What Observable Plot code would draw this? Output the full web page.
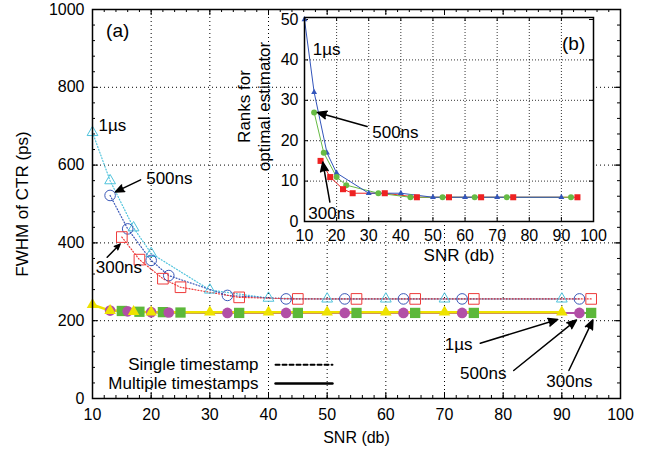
<!DOCTYPE html>
<html><head><meta charset="utf-8">
<script src="https://cdn.jsdelivr.net/npm/d3@7"></script>
<script src="https://cdn.jsdelivr.net/npm/@observablehq/plot@0.6"></script>
<style>
body{margin:0;background:#fff}
#wrap{position:relative;width:649px;height:451px;background:#fff}
#wrap svg{position:absolute;left:0;top:0}
</style></head><body><div id="wrap"></div>
<script>
// ---------- data: panel (a) ----------
const snr1us  = [10, 13, 17, 20, 30, 40, 50, 60, 70, 90];
const snr500  = [13, 16, 20, 23, 33, 43, 53, 63, 73, 93];
const snr300  = [15, 18, 22, 25, 35, 45, 55, 65, 75, 95];
const single1us  = [684, 560, 439, 373, 279, 258, 256, 256, 256, 256];
const single500  = [522, 436, 355, 316, 265, 256, 256, 256, 256, 256];
const single300  = [415, 357, 308, 286, 260, 256, 256, 256, 256, 256];
const multi1us   = [241, 226, 223, 222, 222, 222, 222, 222, 222, 222];
const multi500   = [226, 224, 222, 221, 220, 220, 220, 220, 220, 220];
const multi300   = [225, 223, 222, 221, 220, 220, 220, 220, 220, 220];
// ---------- data: panel (b) ----------
const rank1us = [50, 32, 17, 12, 7, 7, 6, 6, 6, 6];
const rank500 = [27, 17, 11, 9, 7, 6, 6, 6, 6, 6];
const rank300 = [15, 11, 8, 7, 7, 6, 6, 6, 6, 6];
// ---------- ticks ----------
const xTicks = [10, 20, 30, 40, 50, 60, 70, 80, 90, 100];
const xGrid = [20, 30, 40, 50, 60, 70, 80, 90];
const xMinor = d3.range(10, 101, 2);
const yTicksA = [0, 200, 400, 600, 800, 1000];
const yGridA = [200, 400, 600, 800];
const yMinorA = d3.range(0, 1001, 40);
const yTicksB = [0, 10, 20, 30, 40, 50];
const yGridB = [10, 20, 30, 40];
// ---------- annotations (data coordinates) ----------
const labelsA = [
  {x: 13.4, y: 702, t: "1µs"},
  {x: 23.1, y: 565, t: "500ns"},
  {x: 14.5, y: 337, t: "300ns"},
  {x: 72.4, y: 139, t: "1µs"},
  {x: 76.6, y: 63, t: "500ns"},
  {x: 91.3, y: 44, t: "300ns"}
];
const panelA = [{x: 14.3, y: 946, t: "(a)"}];
const arrowsA = [
  {x1: 18.2, y1: 562, x2: 13.9, y2: 531},
  {x1: 12.5, y1: 363, x2: 14.7, y2: 397},
  {x1: 76.1, y1: 142, x2: 89.3, y2: 203},
  {x1: 81.8, y1: 72, x2: 92.5, y2: 202},
  {x1: 91.2, y1: 72, x2: 95.3, y2: 202}
];
const legendNames = ["Single timestamp", "Multiple timestamps"];
const legendY = [87, 38.6];
const legendX = [38.3, 41.2, 50.9];
const labelsB = [
  {x: 16.9, y: 42.5, t: "1µs"},
  {x: 38.3, y: 22, t: "500ns"},
  {x: 18.4, y: 2, t: "300ns"}
];
const panelB = [{x: 93.8, y: 44, t: "(b)"}];
const arrowsB = [
  {x1: 29.5, y1: 23.5, x2: 14.0, y2: 27},
  {x1: 17.9, y1: 4.8, x2: 15.7, y2: 14.7}
];

const rows = (xs, ys) => xs.map((x, i) => ({x, y: ys[i]}));
const W = 649, H = 451;
const font = "'Liberation Sans', Arial, Helvetica, sans-serif";
const C = {cyan: "#4fc3dc", blue: "#3a58b8", red: "#ee3a3a", yellow: "#eee200", purple: "#b24fa6", green: "#5cb83a",
           iblue: "#3355bb", igreen: "#66bb44", ired: "#ee2222"};

// ---------- main panel (a) ----------
const mL = 92, mR = 29, mT = 9, mB = 53;
const fw = W - mL - mR, fh = H - mT - mB;
const dotted = {strokeDasharray: "1,2", strokeWidth: 1.2};
const main = Plot.plot({
  width: W, height: H, marginLeft: mL, marginRight: mR, marginTop: mT, marginBottom: mB,
  style: {fontFamily: font, fontSize: "16px", background: "transparent", color: "black", overflow: "visible"},
  x: {domain: [10, 100], label: null},
  y: {domain: [0, 1000], label: null},
  marks: [
    Plot.gridX({ticks: xGrid, stroke: "black", strokeOpacity: 1, strokeDasharray: "1,3"}),
    Plot.gridY({ticks: yGridA, stroke: "black", strokeOpacity: 1, strokeDasharray: "1,3"}),
    // inward ticks
    Plot.tickX(xMinor, {x: d => d, insetTop: fh - 3, stroke: "black"}),
    Plot.tickX(xMinor, {x: d => d, insetBottom: fh - 3, stroke: "black"}),
    Plot.tickX(xTicks, {x: d => d, insetTop: fh - 6, stroke: "black"}),
    Plot.tickX(xTicks, {x: d => d, insetBottom: fh - 6, stroke: "black"}),
    Plot.tickY(yMinorA, {y: d => d, insetRight: fw - 3, stroke: "black"}),
    Plot.tickY(yMinorA, {y: d => d, insetLeft: fw - 3, stroke: "black"}),
    Plot.tickY(yTicksA, {y: d => d, insetRight: fw - 6, stroke: "black"}),
    Plot.tickY(yTicksA, {y: d => d, insetLeft: fw - 6, stroke: "black"}),
    // single timestamp (dotted, hollow)
    Plot.line(rows(snr1us, single1us), {x: "x", y: "y", stroke: C.cyan, ...dotted}),
    Plot.line(rows(snr500, single500), {x: "x", y: "y", stroke: C.blue, ...dotted}),
    Plot.line(rows(snr300, single300), {x: "x", y: "y", stroke: C.red, ...dotted}),
    Plot.dot(rows(snr1us, single1us), {x: "x", y: "y", symbol: "triangle", r: 4, stroke: C.cyan, fill: "none", strokeWidth: 1}),
    Plot.dot(rows(snr500, single500), {x: "x", y: "y", symbol: "circle", r: 5.3, stroke: C.blue, fill: "none", strokeWidth: 1}),
    Plot.dot(rows(snr300, single300), {x: "x", y: "y", symbol: "square", r: 6, stroke: C.red, fill: "none", strokeWidth: 1}),
    // multiple timestamps (solid, filled)
    Plot.line(rows(snr300, multi300), {x: "x", y: "y", stroke: C.green, strokeWidth: 2}),
    Plot.line(rows(snr500, multi500), {x: "x", y: "y", stroke: C.purple, strokeWidth: 2}),
    Plot.line(rows(snr1us, multi1us), {x: "x", y: "y", stroke: C.yellow, strokeWidth: 2.5}),
    Plot.dot(rows(snr300, multi300), {x: "x", y: "y", symbol: "square", r: 5.8, fill: C.green}),
    Plot.dot(rows(snr500, multi500), {x: "x", y: "y", symbol: "circle", r: 5.3, fill: C.purple}),
    Plot.dot(rows(snr1us, multi1us), {x: "x", y: "y", symbol: "triangle", r: 4.3, fill: C.yellow}),
    // legend
    Plot.text(legendNames, {x: legendX[0], y: (d, i) => legendY[i], text: d => d, textAnchor: "end", fontSize: 17}),
    Plot.line([legendX[1], legendX[2]], {x: d => d, y: legendY[0], stroke: "black", strokeWidth: 2, strokeDasharray: "4,3"}),
    Plot.line([legendX[1], legendX[2]], {x: d => d, y: legendY[1], stroke: "black", strokeWidth: 2.5}),
    // annotations
    Plot.text(labelsA, {x: "x", y: "y", text: "t", fontSize: 17}),
    Plot.text(panelA, {x: "x", y: "y", text: "t", fontSize: 19}),
    Plot.arrow(arrowsA, {x1: "x1", y1: "y1", x2: "x2", y2: "y2", stroke: "black", fill: "black", strokeWidth: 1.5, headLength: 10, headAngle: 45}),
    // axes
    Plot.axisX({ticks: xTicks, tickSize: 0, tickPadding: 10, label: null}),
    Plot.axisY({ticks: yTicksA, tickSize: 0, tickPadding: 8, label: null, tickFormat: d3.format("d")}),
    Plot.text(["SNR (db)"], {frameAnchor: "bottom", dy: 39, lineAnchor: "middle", textAnchor: "middle", text: d => d}),
    Plot.text(["FWHM of CTR (ps)"], {frameAnchor: "left", dx: -70, rotate: -90, textAnchor: "middle", lineAnchor: "middle", fontSize: 17, text: d => d}),
    Plot.frame({stroke: "black", strokeWidth: 1.5})
  ]
});

// ---------- inset panel (b) ----------
const iL = 304, iR = 56, iT = 17, iB = 230;
const ifw = W - iL - iR, ifh = H - iT - iB;
const inset = Plot.plot({
  width: W, height: H, marginLeft: iL, marginRight: iR, marginTop: iT, marginBottom: iB,
  style: {fontFamily: font, fontSize: "16px", background: "transparent", color: "black", overflow: "visible"},
  x: {domain: [10, 100], label: null},
  y: {domain: [0, 50.5], label: null},
  marks: [
    Plot.frame({fill: "white", stroke: null}),
    Plot.gridX({ticks: xGrid, stroke: "black", strokeOpacity: 1, strokeDasharray: "1,2", strokeWidth: 0.8}),
    Plot.gridY({ticks: yGridB, stroke: "black", strokeOpacity: 1, strokeDasharray: "1,2", strokeWidth: 0.8}),
    Plot.tickX(xTicks, {x: d => d, insetTop: ifh - 4, stroke: "black"}),
    Plot.tickX(xTicks, {x: d => d, insetBottom: ifh - 4, stroke: "black"}),
    Plot.tickY(yTicksB, {y: d => d, insetRight: ifw - 4, stroke: "black"}),
    Plot.tickY(yTicksB, {y: d => d, insetLeft: ifw - 4, stroke: "black"}),
    Plot.line(rows(snr300, rank300), {x: "x", y: "y", stroke: C.ired, strokeWidth: 1}),
    Plot.line(rows(snr500, rank500), {x: "x", y: "y", stroke: C.igreen, strokeWidth: 1}),
    Plot.line(rows(snr1us, rank1us), {x: "x", y: "y", stroke: C.iblue, strokeWidth: 1}),
    Plot.dot(rows(snr1us, rank1us), {x: "x", y: "y", symbol: "triangle", r: 2.2, fill: C.iblue}),
    Plot.dot(rows(snr500, rank500), {x: "x", y: "y", symbol: "circle", r: 3, fill: C.igreen}),
    Plot.dot(rows(snr300, rank300), {x: "x", y: "y", symbol: "square", r: 3.4, fill: C.ired}),
    Plot.text(labelsB, {x: "x", y: "y", text: "t", fontSize: 17}),
    Plot.text(panelB, {x: "x", y: "y", text: "t", fontSize: 19}),
    Plot.arrow(arrowsB, {x1: "x1", y1: "y1", x2: "x2", y2: "y2", stroke: "black", fill: "black", strokeWidth: 1.5, headLength: 10, headAngle: 45}),
    Plot.axisX({ticks: xTicks, tickSize: 0, tickPadding: 8, label: null}),
    Plot.axisY({ticks: yTicksB, tickSize: 0, tickPadding: 6, label: null}),
    Plot.text(["SNR (db)"], {frameAnchor: "bottom", dx: 10, dy: 34, lineAnchor: "middle", textAnchor: "middle", fontSize: 17, text: d => d}),
    Plot.text(["Ranks for\noptimal estimator"], {frameAnchor: "left", dx: -51, dy: -13, rotate: -90, textAnchor: "middle", lineAnchor: "middle", lineHeight: 1.15, fontSize: 17, text: d => d}),
    Plot.frame({stroke: "black", strokeWidth: 1.5})
  ]
});

const wrap = document.getElementById("wrap");
wrap.appendChild(main);
wrap.appendChild(inset);
</script></body></html>
